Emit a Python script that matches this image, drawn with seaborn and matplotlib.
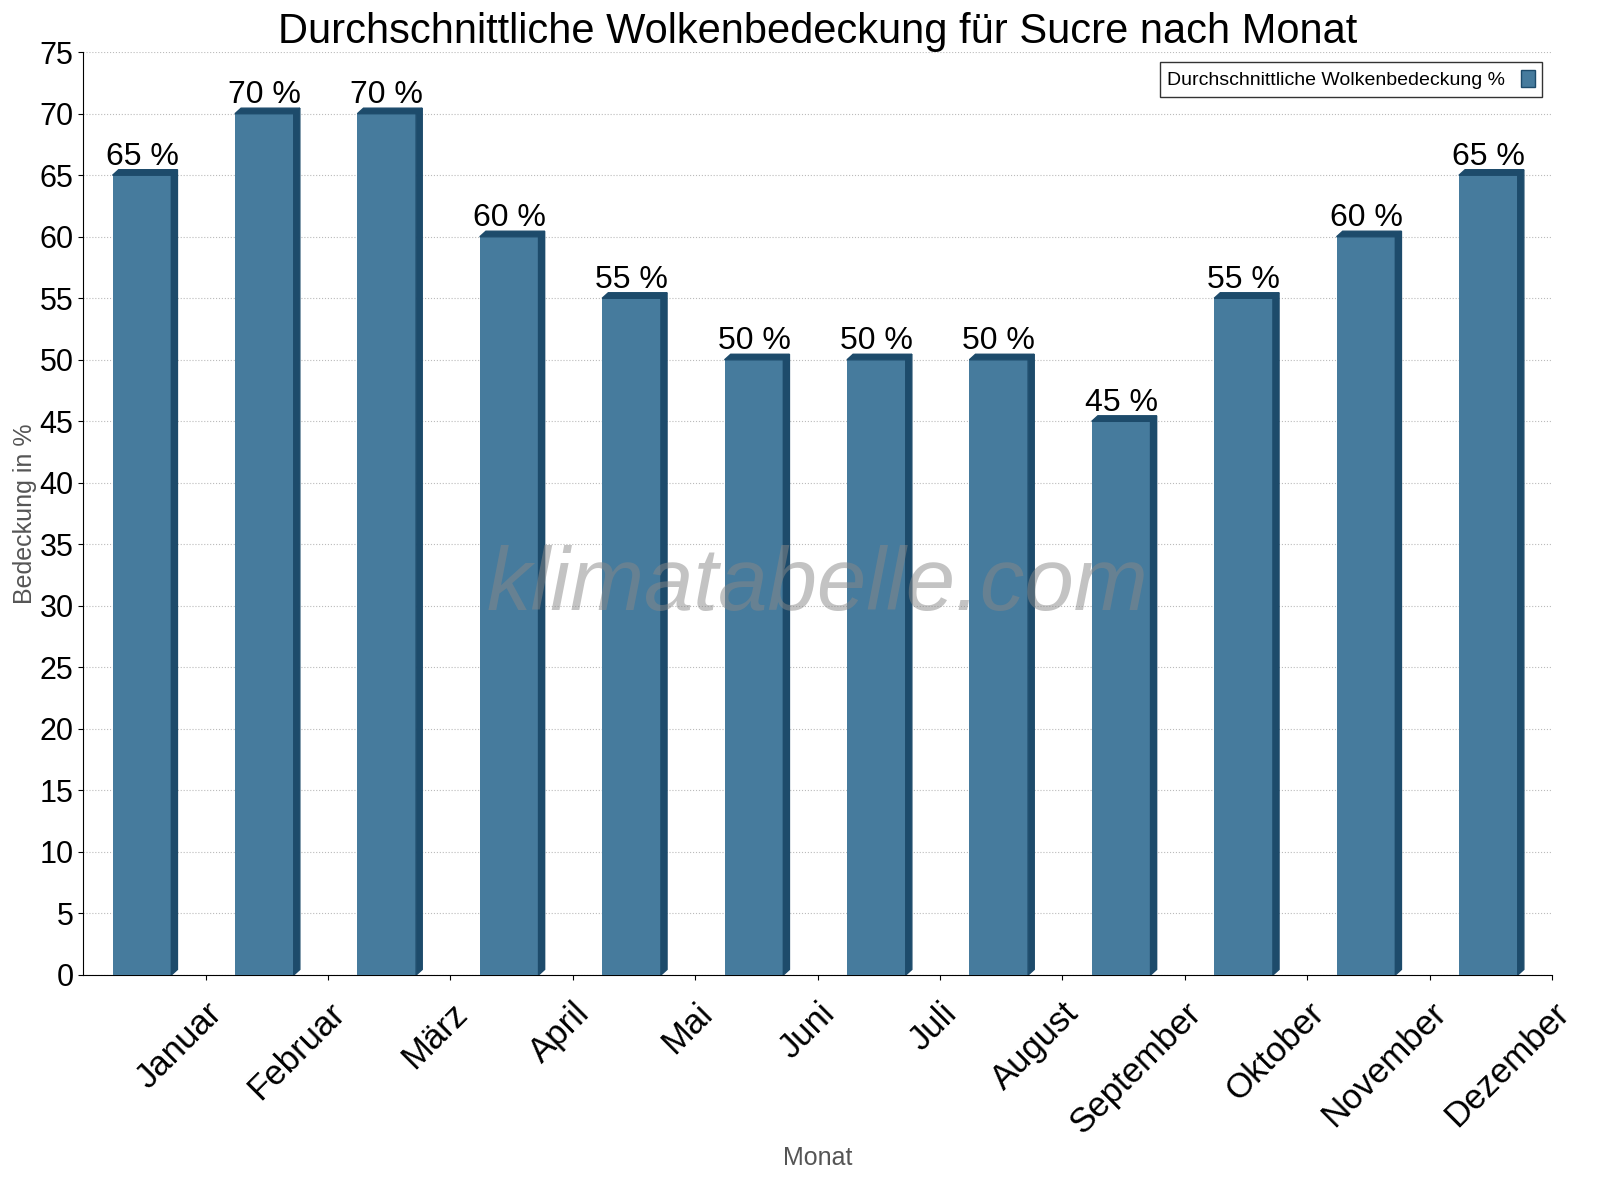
import matplotlib
matplotlib.use("Agg")
import matplotlib.pyplot as plt
from matplotlib.patches import Polygon, Patch
import pandas as pd
import seaborn as sns

plt.rcParams['font.family'] = 'Liberation Sans'

months = ['Januar', 'Februar', 'März', 'April', 'Mai', 'Juni', 'Juli',
          'August', 'September', 'Oktober', 'November', 'Dezember']
cover = [65, 70, 70, 60, 55, 50, 50, 50, 45, 55, 60, 65]

df = pd.DataFrame({'Monat': months, 'Bedeckung': cover})
face = '#467b9d'
dark = '#1d4b6b'

fig = plt.figure(figsize=(16, 12), dpi=100)
ax = fig.add_axes([0.052, 0.1875, 0.918, 0.769])
sns.barplot(data=df, x='Monat', y='Bedeckung', color=face, width=0.48,
            saturation=1, ax=ax, zorder=3)

# shift bars slightly left and add fake 3D side and top
dx, dy = 0.05, 0.45
for p in ax.patches:
    x0 = p.get_x() - 0.02
    p.set_x(x0)
    w, h = p.get_width(), p.get_height()
    ax.add_patch(Polygon([(x0 + w, 0), (x0 + w + dx, dy), (x0 + w + dx, h + dy), (x0 + w, h)],
                         closed=True, color=dark, zorder=3))
    ax.add_patch(Polygon([(x0, h), (x0 + dx, h + dy), (x0 + w + dx, h + dy), (x0 + w, h)],
                         closed=True, color=dark, zorder=3))
    ax.text(x0 + w / 2, h + 0.3, f"{int(h)} %", ha='center', va='bottom', fontsize=23, zorder=4)

ax.set_xlim(-0.5, 11.5)
ax.set_ylim(0, 75)
ax.set_yticks(range(0, 76, 5))
ax.tick_params(axis='y', labelsize=22)
ax.set_xticks([i + 0.5 for i in range(12)])
ax.set_xticklabels(months, rotation=45, ha='right', rotation_mode='anchor', fontsize=25)
ax.tick_params(axis='x', pad=12)
ax.grid(axis='y', linestyle=':', color='#bbbbbb', zorder=0)
for s in ['top', 'right']:
    ax.spines[s].set_visible(False)
ax.set_xlabel('Monat', fontsize=18, color='#555555', labelpad=4)
ax.set_ylabel('Bedeckung in %', fontsize=18, color='#555555', labelpad=2)
ax.set_title('Durchschnittliche Wolkenbedeckung für Sucre nach Monat', fontsize=30, pad=6)

ax.text(0.5, 0.42, 'klimatabelle.com', transform=ax.transAxes, ha='center', va='center',
        fontsize=64, style='italic', color='#888888', alpha=0.5, zorder=5)

ax.legend(handles=[Patch(facecolor=face, edgecolor=dark, label='Durchschnittliche Wolkenbedeckung %')],
          loc='upper right', fontsize=14, frameon=True, fancybox=False, edgecolor='black',
          markerfirst=False, handlelength=0.7, handleheight=1.0)

fig.savefig('out.png', dpi=100)
